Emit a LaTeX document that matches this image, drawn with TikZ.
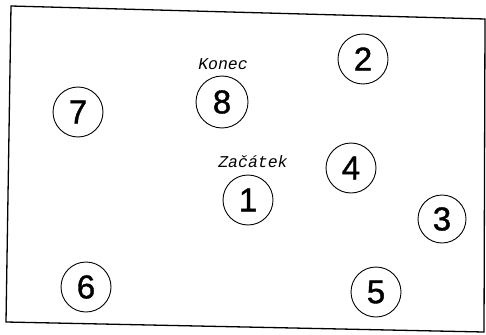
\documentclass[tikz,border=0pt]{standalone}
\usepackage{fontspec}
\setmainfont{Liberation Sans}
\newfontfamily\digitfont[FakeBold=1.2]{Liberation Sans}
\newfontfamily\typefont{Liberation Mono}

\begin{document}
\begin{tikzpicture}[x=1pt,y=-1pt,
  spot/.style={circle,draw,line width=0.9pt,minimum size=50pt,inner sep=0pt,
    font=\digitfont\fontsize{33}{36}\selectfont},
  tag/.style={inner sep=0pt,font=\typefont\itshape\fontsize{16.5}{18}\selectfont}]
\useasboundingbox (0,0) rectangle (486,334);
% frame of the sheet
\draw[line width=1.3pt] (11,6) -- (485,19) -- (484,332) -- (6,322) -- cycle;
% numbered places
\node[spot] (n1) at (248,200) {1};
\node[spot] (n2) at (363,59) {2};
\node[spot,minimum size=48pt] (n3) at (442,219) {3};
\node[spot] (n4) at (351,168) {4};
\node[spot] (n5) at (376,292) {5};
\node[spot] (n6) at (86,287) {6};
\node[spot] (n7) at (78,112) {7};
\node[spot,minimum size=52pt] (n8) at (222,102) {8};
% start and end
\node[tag] (konec) at (223,64) {Konec};
\node[tag] (zacatek) at (253,162) {Začátek};
\end{tikzpicture}
\end{document}
